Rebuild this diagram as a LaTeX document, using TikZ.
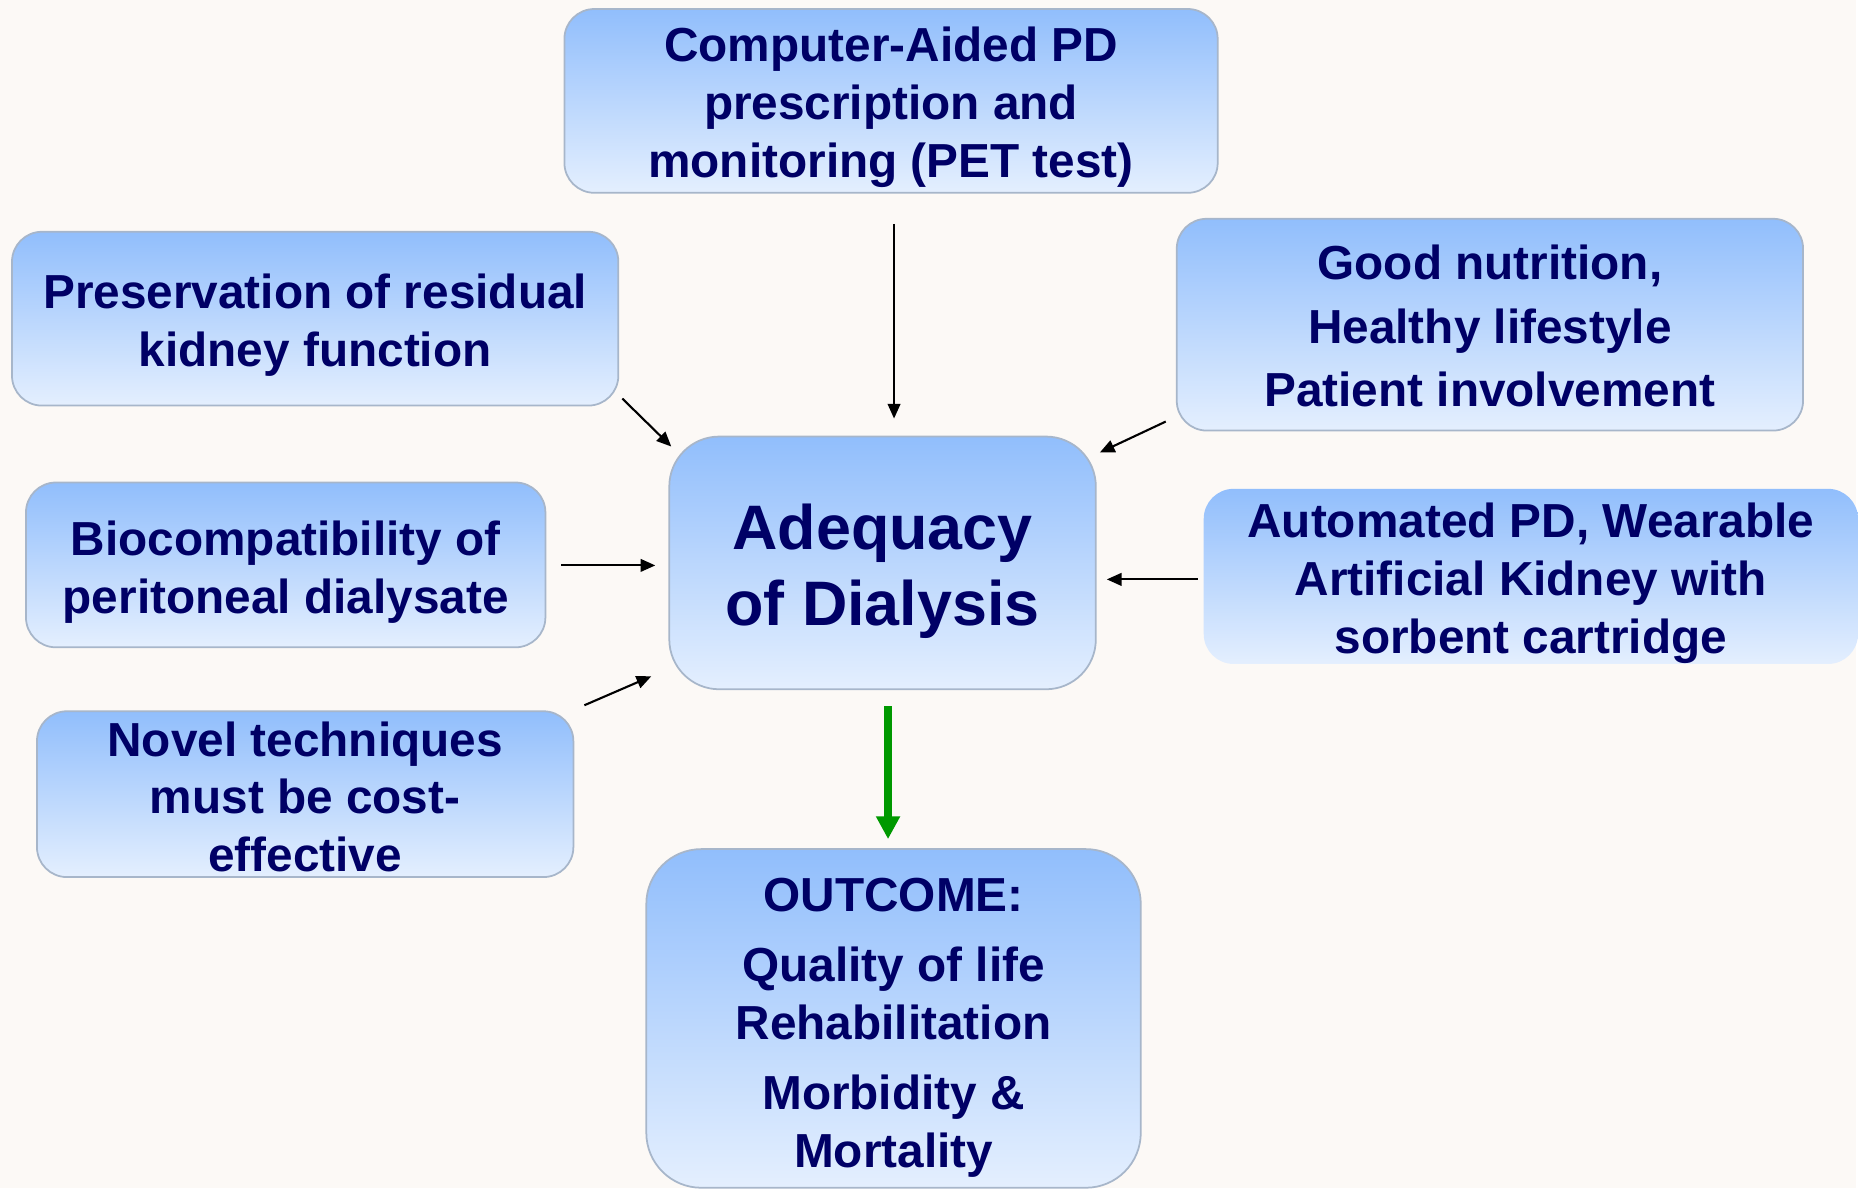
\documentclass[tikz,border=0pt]{standalone}
\usepackage{fontspec}
\setmainfont{Liberation Sans}
\usepackage{xcolor}
\usetikzlibrary{arrows.meta}
\definecolor{paper}{HTML}{FCF9F6}
\definecolor{navy}{HTML}{000066}
\definecolor{boxtop}{HTML}{91BEFC}
\definecolor{boxbot}{HTML}{E4EFFE}
\definecolor{boxline}{HTML}{A7B6CA}
\definecolor{outgreen}{HTML}{009900}
\newcommand\txt{\bfseries\fontsize{13.6}{16.5}\selectfont}
\newcommand\tallrow[1]{\rule{0pt}{#1}}
\tikzset{
  factor/.style={rounded corners=0.3cm, top color=boxtop, bottom color=boxbot,
    draw=boxline, line width=0.5pt, inner sep=0pt, align=center,
    text=navy, font=\txt},
  central/.style={factor, rounded corners=0.5cm},
  feed/.style={-{Triangle[length=4.2pt,width=3.6pt]}, line width=0.6pt, black}
}

\begin{document}
\begin{tikzpicture}
        \fill[paper] (0,0) rectangle (18.58,-11.89);

        \coordinate (Comp) at (8.92, -1.01);
        \coordinate (Pres) at (3.155, -3.19);
        \coordinate (Nutr) at (14.915, -3.25);
        \coordinate (Adeq) at (8.835, -5.635);
        \coordinate (Bio) at (2.86, -5.655);
        \coordinate (Auto) at (15.325, -5.77);
        \coordinate (Nov) at (3.055, -7.95);
        \coordinate (Out) at (8.945, -10.195);

        \coordinate (Comps) at (8.95, -2.24);
        \coordinate (Compe) at (8.95, -4.19);
        \coordinate (Press) at (6.23, -3.99);
        \coordinate (Prese) at (6.72, -4.47);
        \coordinate (Nutrs) at (11.67, -4.22);
        \coordinate (Nutre) at (11.01, -4.53);
        \coordinate (Bios) at (5.62, -5.66);
        \coordinate (Bioe) at (6.56, -5.66);
        \coordinate (Autos) at (11.99, -5.80);
        \coordinate (Autoe) at (11.08, -5.80);
        \coordinate (Novs) at (5.85, -7.06);
        \coordinate (Nove) at (6.52, -6.77);
        \coordinate (Adeqs) at (8.89, -7.07);
        \coordinate (Oute) at (8.89, -8.40);

        \node[factor, minimum width=6.54cm, minimum height=1.84cm] (comp) at (Comp)
          {\tallrow{13.5pt}Computer-Aided PD\\prescription and\\monitoring (PET test)};
        \node[factor, minimum width=6.07cm, minimum height=1.74cm] (pres) at (Pres)
          {\tallrow{13.5pt}Preservation of residual\\kidney function};
        \node[factor, minimum width=6.27cm, minimum height=2.12cm] (nutr) at (Nutr)
          {\tallrow{10.6pt}Good nutrition,\\[1.7pt]Healthy lifestyle\\[1.7pt]Patient involvement};
        \node[factor, minimum width=5.20cm, minimum height=1.65cm] (bio) at (Bio)
          {\tallrow{14pt}Biocompatibility of\\peritoneal dialysate};
        \node[factor, draw=none, minimum width=6.55cm, minimum height=1.72cm] (auto) at (Auto)
          {\tallrow{14pt}Automated PD, Wearable\\Artificial Kidney with\\sorbent cartridge};
        \node[factor, minimum width=5.37cm, minimum height=1.66cm] (nov) at (Nov)
          {\tallrow{11.4pt}Novel techniques\\must be cost-\\effective};
        \node[central, minimum width=4.27cm, minimum height=2.53cm,
          font=\bfseries\fontsize{17.9}{21.6}\selectfont] (adeq) at (Adeq)
          {\tallrow{17.6pt}Adequacy\\of Dialysis};
        \node[central, rounded corners=0.55cm, minimum width=4.95cm, minimum height=3.39cm] (out) at (Out)
          {\tallrow{14.7pt}OUTCOME:\\[3.4pt]Quality of life\\Rehabilitation\\[3.4pt]Morbidity \&\\Mortality};

        \draw[feed] (Comps) -- (Compe);
        \draw[feed] (Press) -- (Prese);
        \draw[feed] (Nutrs) -- (Nutre);
        \draw[feed] (Bios) -- (Bioe);
        \draw[feed] (Autos) -- (Autoe);
        \draw[feed] (Novs) -- (Nove);
        \draw[-{Triangle[length=6.5pt,width=6.5pt]}, line width=2.2pt, outgreen] (Adeqs) -- (Oute);
      \end{tikzpicture}
\end{document}
